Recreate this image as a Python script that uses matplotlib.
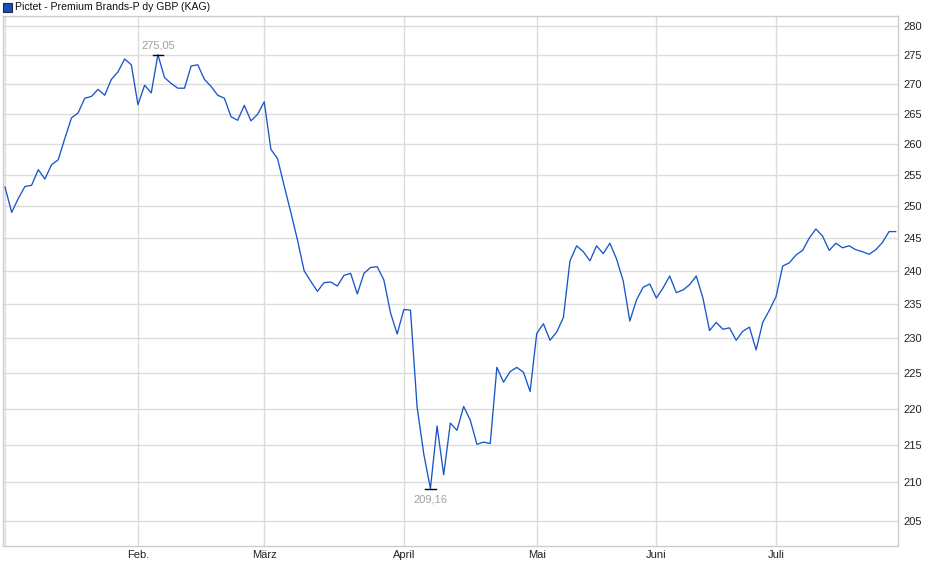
import numpy as np
import matplotlib
matplotlib.use("Agg")
import matplotlib.pyplot as plt
from matplotlib.ticker import FixedLocator, NullLocator, FixedFormatter

plt.rcParams['font.family'] = ['Liberation Sans', 'DejaVu Sans']

title = 'Pictet - Premium Brands-P dy GBP (KAG)'

# Kurs je Handelstag
prices = [
    253.0, 249.0, 251.2, 253.1, 253.3, 255.8, 254.3, 256.6, 257.4, 260.9,
    264.3, 265.15, 267.6, 267.9, 269.1, 268.1, 270.8, 272.1, 274.3, 273.3,
    266.5, 269.8, 268.5, 275.05, 271.1, 270.1, 269.3, 269.3, 273.1, 273.3,
    270.8, 269.6, 268.1, 267.6, 264.5, 263.9, 266.4, 263.8, 264.9, 267.0,
    259.1, 257.6, 253.2, 249.0, 244.7, 240.0, 238.4, 236.9, 238.2, 238.3,
    237.7, 239.3, 239.6, 236.5, 239.6, 240.5, 240.6, 238.6, 233.7, 230.6,
    234.2, 234.1, 220.2, 213.8, 209.16, 217.6, 211.0, 218.0, 217.0, 220.3,
    218.4, 215.1, 215.4, 215.2, 225.8, 223.7, 225.2, 225.8, 225.1, 222.4,
    230.7, 232.1, 229.7, 230.9, 233.0, 241.5, 243.8, 242.9, 241.5, 243.8,
    242.6, 244.2, 241.8, 238.5, 232.5, 235.6, 237.5, 238.0, 235.9, 237.4,
    239.2, 236.7, 237.1, 237.9, 239.2, 235.9, 231.1, 232.3, 231.3, 231.5,
    229.7, 231.0, 231.6, 228.3, 232.3, 234.1, 236.1, 240.7, 241.2, 242.4,
    243.1, 245.0, 246.4, 245.3, 243.1, 244.2, 243.5, 243.8, 243.2, 242.9,
    242.5, 243.2, 244.3, 246.0, 246.0,
]

# Monatsanfang als Index des Handelstages
month_pos = [0, 20, 39, 60, 80, 98, 116]
month_labels = ['', 'Feb.', 'März', 'April', 'Mai', 'Juni', 'Juli']

y_ticks = [205, 210, 215, 220, 225, 230, 235, 240, 245, 250, 255, 260, 265, 270, 275, 280]

x = np.arange(len(prices))
y = np.array(prices)

fig = plt.figure(figsize=(9.4, 5.79), dpi=100)
ax = fig.add_axes([2.5 / 940, 1 - 546 / 579, (898 - 2.5) / 940, (546 - 16) / 579])

grid_c = '#dcdcdc'
line_c = '#1a56c8'

ax.plot(x, y, color=line_c, lw=0.95, zorder=3)

ax.set_yscale('log')
ax.set_xlim(-0.38, 134.35)
ax.set_ylim(201.73, 281.85)

ax.yaxis.set_major_locator(FixedLocator(y_ticks))
ax.yaxis.set_major_formatter(FixedFormatter([str(t) for t in y_ticks]))
ax.yaxis.set_minor_locator(NullLocator())
ax.yaxis.tick_right()
ax.set_xticks(month_pos)
ax.set_xticklabels(month_labels)
ax.tick_params(axis='both', length=0, labelsize=8, colors='#222222')
ax.tick_params(axis='y', pad=4)
ax.tick_params(axis='x', pad=3)

ax.grid(True, color=grid_c, lw=1.0, zorder=0)
for s in ax.spines.values():
    s.set_color('#cccccc')
    s.set_linewidth(1.0)

# Hoch und Tief markieren
i_max = int(np.argmax(y))
i_min = int(np.argmin(y))
ax.plot([i_max - 0.8, i_max + 0.8], [y[i_max], y[i_max]], color='black', lw=1.0, zorder=4)
ax.plot([i_min - 0.8, i_min + 0.8], [y[i_min], y[i_min]], color='black', lw=1.0, zorder=4)
ax.annotate(f'{y[i_max]:.2f}'.replace('.', ','), (i_max, y[i_max]), xytext=(0, 3),
            textcoords='offset points', ha='center', va='bottom', fontsize=8, color='#a0a0a0')
ax.annotate(f'{y[i_min]:.2f}'.replace('.', ','), (i_min, y[i_min]), xytext=(0, -4),
            textcoords='offset points', ha='center', va='top', fontsize=8, color='#a0a0a0')

# Legende oben links
fig.patches.append(plt.Rectangle((3 / 940, 1 - 12 / 579), 9 / 940, 9 / 579,
                                 transform=fig.transFigure, facecolor='#1a4fb8',
                                 edgecolor='#1a2a55', lw=0.8))
fig.text(15 / 940, 1 - 7 / 579, title, fontsize=7.6, va='center', ha='left', color='#111111')

fig.savefig('out.png', dpi=100)
